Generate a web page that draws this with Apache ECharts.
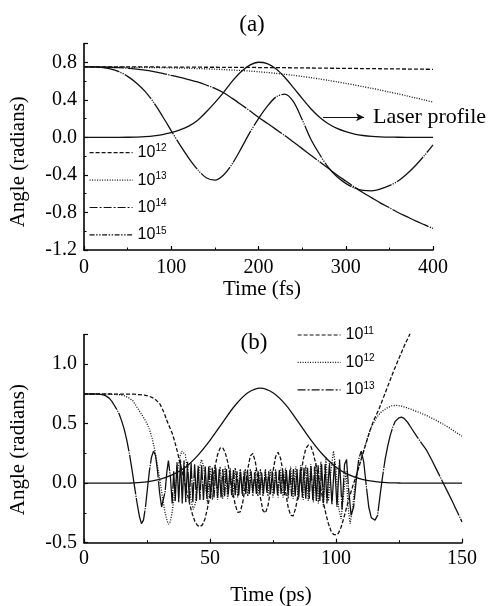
<!DOCTYPE html>
<html>
<head>
<meta charset="utf-8">
<script src="https://cdn.jsdelivr.net/npm/echarts@6/dist/echarts.min.js"></script>
<style>
  html, body { margin: 0; padding: 0; background: #fff; }
  #chart { width: 492px; height: 606px; }
</style>
</head>
<body>
<div id="chart"></div>
<script>
// ---------- Panel (a): femtosecond pulse, time in fs ----------
const xTicksA = [0, 100, 200, 300, 400];
const yTicksA = [-1.2, -0.8, -0.4, 0.0, 0.4, 0.8];
const yMaxA = 1.0;

const timeA = [0, 10, 20, 30, 40, 50, 60, 70, 80, 90, 100, 110, 120, 130, 140, 150, 160, 170, 180, 190,
  200, 210, 220, 230, 240, 250, 260, 270, 280, 290, 300, 310, 320, 330, 340, 350, 360, 370, 380, 390, 400];

const laserA = [0, 0, 0, 0, 0, 0.001, 0.003, 0.007, 0.015, 0.03, 0.05, 0.08, 0.12, 0.18, 0.27, 0.37, 0.48, 0.60, 0.70, 0.77,
  0.80, 0.785, 0.73, 0.64, 0.53, 0.415, 0.305, 0.215, 0.145, 0.095, 0.06, 0.035, 0.02, 0.011, 0.006, 0.003, 0.001, 0, 0, 0, 0];

const angleA12 = [0.75, 0.75, 0.75, 0.75, 0.75, 0.75, 0.75, 0.75, 0.75, 0.749, 0.749, 0.749, 0.748, 0.748, 0.747, 0.747, 0.746, 0.746, 0.745, 0.745,
  0.744, 0.743, 0.743, 0.742, 0.741, 0.740, 0.739, 0.738, 0.737, 0.736, 0.735, 0.734, 0.733, 0.732, 0.731, 0.730, 0.729, 0.728, 0.727, 0.726, 0.725];

const angleA13 = [0.75, 0.75, 0.75, 0.749, 0.748, 0.747, 0.746, 0.745, 0.744, 0.742, 0.740, 0.738, 0.736, 0.733, 0.730, 0.726, 0.722, 0.717, 0.712, 0.706,
  0.699, 0.691, 0.682, 0.672, 0.661, 0.649, 0.636, 0.622, 0.607, 0.591, 0.575, 0.558, 0.540, 0.522, 0.503, 0.483, 0.463, 0.442, 0.420, 0.398, 0.375];

const angleA14 = [0.75, 0.75, 0.749, 0.747, 0.743, 0.737, 0.728, 0.716, 0.70, 0.682, 0.66, 0.64, 0.615, 0.59, 0.558, 0.522, 0.475, 0.415, 0.35, 0.283,
  0.215, 0.15, 0.085, 0.02, -0.05, -0.12, -0.19, -0.26, -0.33, -0.40, -0.465, -0.53, -0.59, -0.645, -0.70, -0.75, -0.80, -0.845, -0.89, -0.93, -0.97];

const angleA15 = [0.75, 0.75, 0.745, 0.73, 0.70, 0.65, 0.58, 0.49, 0.37, 0.225, 0.07, -0.08, -0.22, -0.34, -0.43, -0.455, -0.40, -0.28, -0.12, 0.05,
  0.20, 0.33, 0.43, 0.46, 0.38, 0.19, -0.02, -0.18, -0.32, -0.42, -0.49, -0.54, -0.565, -0.57, -0.55, -0.515, -0.465, -0.39, -0.30, -0.195, -0.08];

// ---------- Panel (b): picosecond pulse, time in ps ----------
const xTicksB = [0, 50, 100, 150];
const yTicksB = [-0.5, 0.0, 0.5, 1.0];
const yMaxB = 1.25;

const laserB = [[0,0],[5,0],[10,0],[15,0.001],[20,0.003],[25,0.012],[30,0.033],[35,0.07],[40,0.13],[45,0.23],[50,0.36],[55,0.51],
  [60,0.655],[65,0.76],[70,0.80],[75,0.76],[80,0.66],[85,0.515],[90,0.365],[95,0.235],[100,0.135],[105,0.072],[110,0.035],
  [115,0.015],[120,0.005],[125,0.002],[130,0],[140,0],[150,0]];

const angleB11 = [[0,0.75],[10,0.75],[20,0.748],[24,0.74],[26,0.73],[28,0.71],[29,0.69],[30,0.67],[31,0.63],[32,0.58],[33,0.52],[34,0.47],
  [35,0.42],[36,0.35],[37,0.27],[38,0.18],[39,0.09],[40,0],[41,-0.09],[42,-0.18],[43,-0.26],[44,-0.32],[45,-0.355],[46,-0.365],[47,-0.35],
  [48,-0.30],[49,-0.21],[50,-0.10],[51,0.02],[52,0.14],[53,0.24],[54,0.295],[55,0.30],[56,0.26],[57,0.18],[58,0.06],[59,-0.07],[60,-0.18],
  [61,-0.245],[62,-0.24],[63,-0.16],[64,-0.03],[65,0.12],[66,0.23],[67,0.25],[68,0.18],[69,0.04],[70,-0.12],[71,-0.23],[72,-0.25],[73,-0.19],
  [74,-0.06],[75,0.10],[76,0.22],[77,0.26],[78,0.21],[79,0.09],[80,-0.07],[81,-0.20],[82,-0.27],[83,-0.275],[84,-0.21],[85,-0.09],[86,0.06],
  [87,0.20],[88,0.29],[89,0.32],[90,0.31],[91,0.25],[92,0.16],[93,0.06],[94,-0.05],[95,-0.16],[96,-0.26],[97,-0.34],[98,-0.40],[99,-0.43],
  [100,-0.435],[101,-0.42],[102,-0.37],[103,-0.30],[104,-0.22],[105,-0.14],[106,-0.07],[107,0],[108,0.06],[110,0.20],[112,0.34],[113.5,0.445],
  [115,0.53],[117,0.62],[119,0.73],[121,0.84],[123,0.95],[125,1.05],[127,1.15],[129,1.24],[131,1.33]];

const angleB12 = [[0,0.75],[10,0.748],[14,0.745],[16,0.735],[18,0.715],[19.5,0.69],[21,0.64],[22.5,0.59],[24,0.54],[25,0.50],[26,0.45],
  [27,0.38],[28,0.29],[29,0.17],[30,0.04],[31,-0.10],[32,-0.23],[33,-0.32],[33.6,-0.345],[34.3,-0.32],[35,-0.24],[36,-0.08],[37,0.09],
  [38,0.22],[38.8,0.27],[39.5,0.28],[40.2,0.24],[41,0.12],[41.8,-0.03],[42.6,-0.16],[43.4,-0.22],[44.2,-0.17],[45,-0.03],[45.8,0.12],
  [46.6,0.20],[47.4,0.15],[48.2,-0.02],[49,-0.17],
  [50,0.15],[51,-0.14],[52,0.15],[53,-0.14],[54,0.14],[55,-0.13],[56,0.14],[57,-0.13],[58,0.13],[59,-0.12],[60,0.13],[61,-0.12],[62,0.12],
  [63,-0.11],[64,0.12],[65,-0.11],[66,0.12],[67,-0.11],[68,0.11],[69,-0.11],[70,0.12],[71,-0.11],[72,0.12],[73,-0.11],[74,0.12],[75,-0.12],
  [76,0.12],[77,-0.12],[78,0.13],[79,-0.12],[80,0.13],[81,-0.13],[82,0.14],[83,-0.13],[84,0.14],[85,-0.14],[86,0.15],[87,-0.14],[88,0.15],
  [89,-0.15],[90,0.16],[91,-0.16],[92,0.17],[93,-0.17],[94,0.18],
  [95,-0.20],[96,0.22],[97,-0.15],[98,0.10],[99,0.27],[100,0.12],[101,-0.20],[102,-0.30],[103,-0.10],[104,0.10],[104.8,-0.20],[105.6,-0.34],
  [106.5,-0.22],[107.5,-0.02],[108.5,0.10],[109.5,0.17],[111,0.28],[112.5,0.38],[114,0.47],[116,0.55],[118,0.60],[120,0.63],[122,0.65],
  [124,0.655],[126,0.648],[128,0.635],[130,0.62],[133,0.595],[136,0.568],[139,0.537],[142,0.502],[145,0.465],[148,0.422],[150,0.395]];

const angleB13 = [[0,0.75],[4,0.75],[6,0.748],[8,0.74],[9,0.73],[10,0.715],[11,0.69],[12,0.655],[13,0.62],[14,0.58],[15,0.52],[16,0.45],
  [17,0.36],[18,0.25],[19,0.12],[20,-0.02],[21,-0.16],[22,-0.28],[22.8,-0.34],[23.6,-0.31],[24.4,-0.20],[25.2,-0.04],[26,0.11],[26.8,0.22],
  [27.6,0.27],[28.4,0.23],[29.2,0.10],[30,-0.08],[30.8,-0.20],[31.5,-0.20],[32.2,-0.07],[32.9,0.10],[33.5,0.19],[34.3,0.05],[35,-0.17],[35.6,0.10],
  [36.2,-0.15],[36.9,0.18],[37.6,-0.16],[38.3,0.20],[39.0,-0.17],[39.7,0.19],[40.4,-0.16],[41.1,0.18],[41.8,-0.15],[42.5,0.17],[43.2,-0.16],
  [43.9,0.16],[44.6,-0.15],[45.3,0.15],[46.0,-0.14],[46.7,0.15],[47.4,-0.14],[48.1,0.14],[48.8,-0.13],[49.5,0.14],[50.2,-0.13],[50.9,0.13],
  [51.6,-0.12],[52.3,0.13],[53.0,-0.12],[53.7,0.12],[54.4,-0.12],[55.1,0.12],[55.8,-0.11],[56.5,0.12],[57.2,-0.11],[57.9,0.11],[58.6,-0.10],
  [59.3,0.11],[60.0,-0.10],[60.7,0.10],[61.4,-0.10],[62.1,0.11],[62.8,-0.09],[63.5,0.10],[64.2,-0.09],[64.9,0.10],[65.6,-0.09],[66.3,0.10],
  [67.0,-0.08],[67.7,0.09],[68.4,-0.09],[69.1,0.10],[69.8,-0.08],[70.5,0.09],[71.2,-0.09],[71.9,0.10],[72.6,-0.08],[73.3,0.10],[74.0,-0.09],
  [74.7,0.10],[75.4,-0.09],[76.1,0.10],[76.8,-0.10],[77.5,0.11],[78.2,-0.09],[78.9,0.10],[79.6,-0.10],[80.3,0.11],[81.0,-0.10],[81.7,0.11],
  [82.4,-0.11],[83.1,0.12],[83.8,-0.11],[84.5,0.12],[85.2,-0.12],[85.9,0.12],[86.6,-0.12],[87.3,0.13],[88.0,-0.13],[88.7,0.13],[89.4,-0.13],
  [90.1,0.14],[90.8,-0.14],[91.5,0.14],[92.2,-0.15],[92.9,0.15],[93.6,-0.15],[94.3,0.16],[95.0,-0.16],[95.7,0.16],[96.4,-0.17],
  [97.4,0.17],[98.4,-0.18],[99.4,0.18],[100.4,-0.20],[101.4,0.20],[102.4,-0.22],[103.4,0.16],[104.2,0.20],[105,-0.05],[106,-0.27],[107,-0.20],
  [108,0.02],[109,0.20],[110,0.27],[111,0.18],[112,-0.02],[113,-0.20],[114,-0.29],[115.5,-0.31],[116.5,-0.27],[117.5,-0.10],[118.5,0.06],
  [119.5,0.20],[120.5,0.31],[121.5,0.40],[122.5,0.47],[123.5,0.52],[125,0.55],[126,0.555],[127,0.545],[128.5,0.51],[130,0.46],[132,0.395],
  [134,0.335],[136,0.275],[138,0.195],[140,0.11],[142,0.025],[144,-0.06],[146,-0.145],[148,-0.235],[150,-0.325]];

// Annotation for the pulse envelope in panel (a): arrow start/end and label (data coordinates)
const laserArrowA = [[274, 0.213], [321, 0.213]];
const laserLabelA = 'Laser profile';

// ---------- styling ----------
const ink = '#111';
const serif = '"Liberation Serif", "Times New Roman", serif';
const sans = '"Liberation Sans", Arial, sans-serif';

// dash patterns: curves (very long dashes read almost solid) and legend keys (plain pattern)
const dash = {
  dashed: [4, 2],
  dotted: [1, 1.5],
  dashDot: [40, 1.2, 1.2, 1.2],
  dashDotDot: [36, 1.2, 1.2, 1.2, 1.2, 1.2]
};
const keyDash = {
  dashed: [4, 2],
  dotted: [1, 1.5],
  dashDot: [8, 2, 2, 2],
  dashDotDot: [5, 1.5, 1.5, 1.5, 1.5, 1.5]
};

function zip(xs, ys) { return xs.map((x, i) => [x, ys[i]]); }

function curve(name, data, idx, type, smooth) {
  return {
    name, type: 'line', data, xAxisIndex: idx, yAxisIndex: idx,
    symbol: 'none', showSymbol: false, smooth: smooth || false,
    lineStyle: { color: ink, width: 1.3, type },
    itemStyle: { color: ink },
    emphasis: { disabled: true }, silent: true
  };
}

function fmt1(v) { return Math.abs(v) < 1e-9 ? '0.0' : v.toFixed(1); }

function xAxisOf(idx, ticks, name, nameGap, margin, namePad) {
  return {
    gridIndex: idx, type: 'value',
    min: ticks[0], max: ticks[ticks.length - 1], interval: ticks[1] - ticks[0],
    axisLine: { show: true, onZero: false, lineStyle: { color: '#000', width: 1.6 } },
    axisTick: { show: true, inside: true, length: 4, lineStyle: { color: '#000', width: 1.2 } },
    minorTick: { show: true, splitNumber: 2, length: 2.5, lineStyle: { color: '#000', width: 1 } },
    splitLine: { show: false }, minorSplitLine: { show: false },
    axisLabel: { margin, fontFamily: serif, fontSize: 20, color: '#000', formatter: v => String(v) },
    name, nameLocation: 'middle', nameGap,
    nameTextStyle: { fontFamily: serif, fontSize: 21, color: '#000', padding: namePad }
  };
}

function yAxisOf(idx, ticks, max, nameGap, namePad) {
  return {
    gridIndex: idx, type: 'value',
    min: ticks[0], max, interval: ticks[1] - ticks[0],
    axisLine: { show: true, onZero: false, lineStyle: { color: '#000', width: 1.6 } },
    axisTick: { show: true, inside: true, length: 4, lineStyle: { color: '#000', width: 1.2 } },
    minorTick: { show: true, splitNumber: 2, length: 2.5, lineStyle: { color: '#000', width: 1 } },
    splitLine: { show: false }, minorSplitLine: { show: false },
    axisLabel: { margin: 7, fontFamily: serif, fontSize: 20, color: '#000', formatter: fmt1, showMaxLabel: false },
    name: 'Angle (radians)', nameLocation: 'middle', nameGap,
    nameTextStyle: { fontFamily: serif, fontSize: 21, color: '#000', padding: namePad }
  };
}

const legendRich = {
  base: { fontFamily: sans, fontSize: 16, lineHeight: 18, color: '#000' },
  sup: { fontFamily: sans, fontSize: 10, lineHeight: 10, verticalAlign: 'top', color: '#000' }
};
const hiddenMarker = { color: 'rgba(0,0,0,0)', borderColor: 'rgba(0,0,0,0)', borderWidth: 0, opacity: 0 };
function legendOf(items, left, top) {
  return {
    data: items.map(([name, type]) => ({ name, lineStyle: { type, width: 1.2, color: ink }, itemStyle: hiddenMarker })),
    orient: 'vertical', left, top, padding: 0,
    itemWidth: 43, itemHeight: 18, itemGap: 10.4, selectedMode: false,
    itemStyle: hiddenMarker,
    formatter: n => '{base|10}{sup|' + n.split(':')[1] + '}',
    textStyle: { fontFamily: sans, fontSize: 16, color: '#000', rich: legendRich }
  };
}

const laserSeriesA = curve('envelopeA', zip(timeA, laserA), 0, 'solid', 0.3);
laserSeriesA.markLine = {
  silent: true, animation: false,
  symbol: ['none', 'arrow'], symbolSize: [6, 8],
  lineStyle: { color: ink, width: 1.2, type: 'solid' },
  label: { show: true, position: 'end', distance: 9, formatter: laserLabelA,
           fontFamily: serif, fontSize: 22, color: '#000' },
  data: [[{ coord: laserArrowA[0] }, { coord: laserArrowA[1] }]]
};

const option = {
  animation: false,
  backgroundColor: '#fff',
  grid: [
    { left: 84, top: 43.5, width: 349, height: 206.5, outerBoundsMode: 'none' },
    { left: 84, top: 334.5, width: 378, height: 208.2, outerBoundsMode: 'none' }
  ],
  xAxis: [
    xAxisOf(0, xTicksA, 'Time (fs)', 29, 8, [0, 0, 0, 7]),
    xAxisOf(1, xTicksB, 'Time (ps)', 42, 6, [0, 4, 0, 0])
  ],
  yAxis: [
    yAxisOf(0, yTicksA, yMaxA, 55, [0, 30, 0, 0]),
    yAxisOf(1, yTicksB, yMaxB, 55, [0, 22, 0, 0])
  ],
  legend: [
    legendOf([['a:12', keyDash.dashed], ['a:13', keyDash.dotted], ['a:14', keyDash.dashDot], ['a:15', keyDash.dashDotDot]], 89, 143.7),
    legendOf([['b:11', keyDash.dashed], ['b:12', keyDash.dotted], ['b:13', keyDash.dashDot]], 297, 326)
  ],
  graphic: [
    { type: 'text', x: 252, y: 25, silent: true,
      style: { text: '(a)', font: '23px ' + serif, fill: '#000', align: 'center', verticalAlign: 'middle', textAlign: 'center', textVerticalAlign: 'middle' } },
    { type: 'text', x: 254, y: 343, silent: true,
      style: { text: '(b)', font: '23px ' + serif, fill: '#000', align: 'center', verticalAlign: 'middle', textAlign: 'center', textVerticalAlign: 'middle' } }
  ],
  series: [
    laserSeriesA,
    curve('a:12', zip(timeA, angleA12), 0, dash.dashed, 0.3),
    curve('a:13', zip(timeA, angleA13), 0, dash.dotted, 0.3),
    curve('a:14', zip(timeA, angleA14), 0, dash.dashDot, 0.3),
    curve('a:15', zip(timeA, angleA15), 0, dash.dashDotDot, 0.3),
    curve('envelopeB', laserB, 1, 'solid', 0.3),
    curve('b:11', angleB11, 1, dash.dashed),
    curve('b:12', angleB12, 1, dash.dotted),
    curve('b:13', angleB13, 1, dash.dashDot)
  ]
};

const chart = echarts.init(document.getElementById('chart'), null, { renderer: 'canvas' });
chart.setOption(option);
</script>
</body>
</html>
